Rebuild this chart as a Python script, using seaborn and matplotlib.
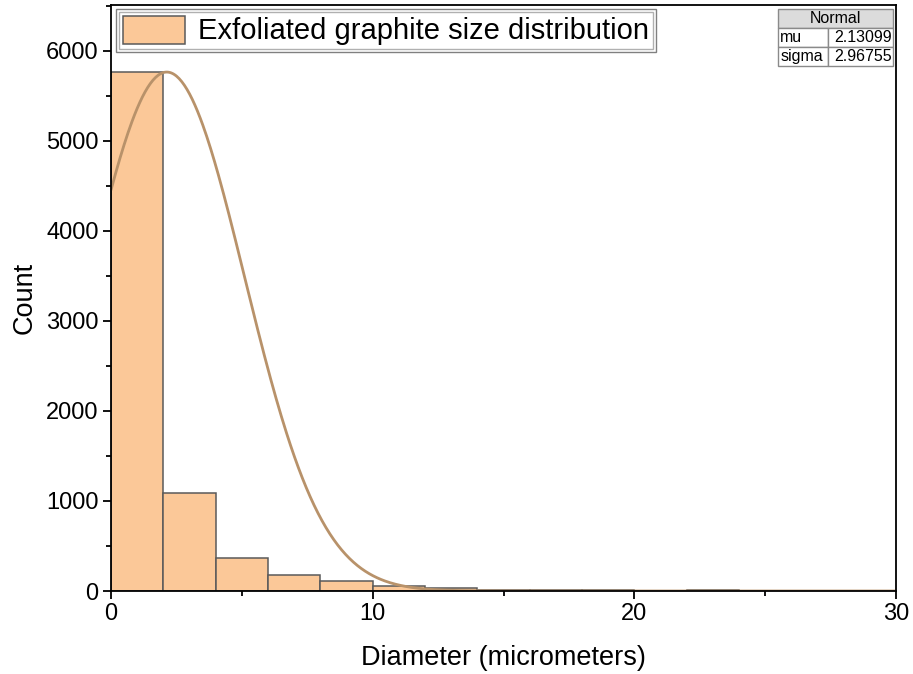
import numpy as np
import pandas as pd
import matplotlib
matplotlib.use("Agg")
import matplotlib.pyplot as plt
import seaborn as sns
from matplotlib.patches import Rectangle

# ---- data ----
bin_edges = [0, 2, 4, 6, 8, 10, 12, 14, 16, 18, 20, 22, 24, 26, 28, 30]
bin_counts = [5765, 1085, 362, 180, 108, 50, 35, 12, 10, 8, 3, 10, 2, 1, 1]
fit_mu = 2.13099
fit_sigma = 2.96755
fit_peak = 5765
legend_label = "Exfoliated graphite size distribution"
table_rows = [("mu", "2.13099"), ("sigma", "2.96755")]

sns.set_theme(style="ticks")
plt.rcParams['font.family'] = ['Liberation Sans', 'DejaVu Sans']
plt.rcParams['text.color'] = 'black'
plt.rcParams['axes.labelcolor'] = 'black'

W, H = 913, 674
fig = plt.figure(figsize=(W / 100, H / 100), dpi=100)
ax = fig.add_axes([111 / W, 1 - 591 / H, (896 - 111) / W, (591 - 5) / H])

centers = [(a + b) / 2 for a, b in zip(bin_edges[:-1], bin_edges[1:])]
df = pd.DataFrame({"Diameter": centers, "Count": bin_counts})
sns.histplot(data=df, x="Diameter", weights="Count", bins=bin_edges,
             color="#FBC898", alpha=1.0, edgecolor="#5a5a5a", linewidth=1.1,
             ax=ax, label=legend_label)

xs = np.linspace(0, 30, 600)
ys = fit_peak * np.exp(-(xs - fit_mu) ** 2 / (2 * fit_sigma ** 2))
sns.lineplot(x=xs, y=ys, color="#B8926A", linewidth=2.0, ax=ax, legend=False)

ax.set_xlim(0, 30)
ax.set_ylim(0, 6510)
ax.set_xticks([0, 10, 20, 30])
ax.set_xticks([5, 15, 25], minor=True)
ax.set_yticks(range(0, 7000, 1000))
ax.set_yticks(range(500, 6510, 1000), minor=True)
ax.tick_params(axis="both", which="major", direction="out", length=6, width=1.3,
               labelsize=17, colors="black", pad=3)
ax.tick_params(axis="both", which="minor", direction="out", length=3.5, width=1.3,
               colors="black")
for s in ax.spines.values():
    s.set_linewidth(1.3)
    s.set_color("black")
ax.set_xlabel("Diameter (micrometers)", fontsize=19.5, labelpad=14, color="black")
ax.set_ylabel("Count", fontsize=19.5, labelpad=6, color="black")

leg = ax.legend(loc="upper left", bbox_to_anchor=(8 / 785, 1 - 7 / 586), fontsize=21,
                frameon=True, fancybox=False, edgecolor="#b0b0b0",
                handlelength=2.15, handleheight=1.1, borderpad=0.12,
                handletextpad=0.45, borderaxespad=0.0, labelcolor="black")
leg.get_frame().set_linewidth(1.0)
leg.get_frame().set_alpha(1.0)

# outer frame of the legend (double border look)
fig.canvas.draw()
bb = leg.get_window_extent(fig.canvas.get_renderer())
pad = 3
fig.patches.append(Rectangle((bb.x0 - pad, bb.y0 - pad), bb.width + 2 * pad,
                             bb.height + 2 * pad, transform=None, fill=False,
                             edgecolor="#808080", lw=1.0, zorder=10))

# parameter table (top right), in pixel-derived axes coordinates
def axx(px):
    return (px - 111) / 785

def axy(py):
    return (591 - py) / 586

tx0, txm, tx1 = axx(778), axx(828), axx(893)
ty_top = axy(9)
row_h = (axy(9) - axy(28))
ax.add_patch(Rectangle((tx0, ty_top - row_h), tx1 - tx0, row_h, transform=ax.transAxes,
                       facecolor="#DCDCDC", edgecolor="#8a8a8a", lw=1.0, zorder=5))
ax.text((tx0 + tx1) / 2, ty_top - row_h / 2, "Normal", transform=ax.transAxes,
        ha="center", va="center", fontsize=11.5, zorder=6)
for i, (name, val) in enumerate(table_rows):
    yb = ty_top - row_h * (i + 2)
    ax.add_patch(Rectangle((tx0, yb), txm - tx0, row_h, transform=ax.transAxes,
                           facecolor="white", edgecolor="#8a8a8a", lw=1.0, zorder=5))
    ax.add_patch(Rectangle((txm, yb), tx1 - txm, row_h, transform=ax.transAxes,
                           facecolor="white", edgecolor="#8a8a8a", lw=1.0, zorder=5))
    ax.text(tx0 + 0.003, yb + row_h / 2, name, transform=ax.transAxes,
            ha="left", va="center", fontsize=11.5, zorder=6)
    ax.text(tx1 - 0.002, yb + row_h / 2, val, transform=ax.transAxes,
            ha="right", va="center", fontsize=11.5, zorder=6)

fig.savefig("out.png", dpi=100)
